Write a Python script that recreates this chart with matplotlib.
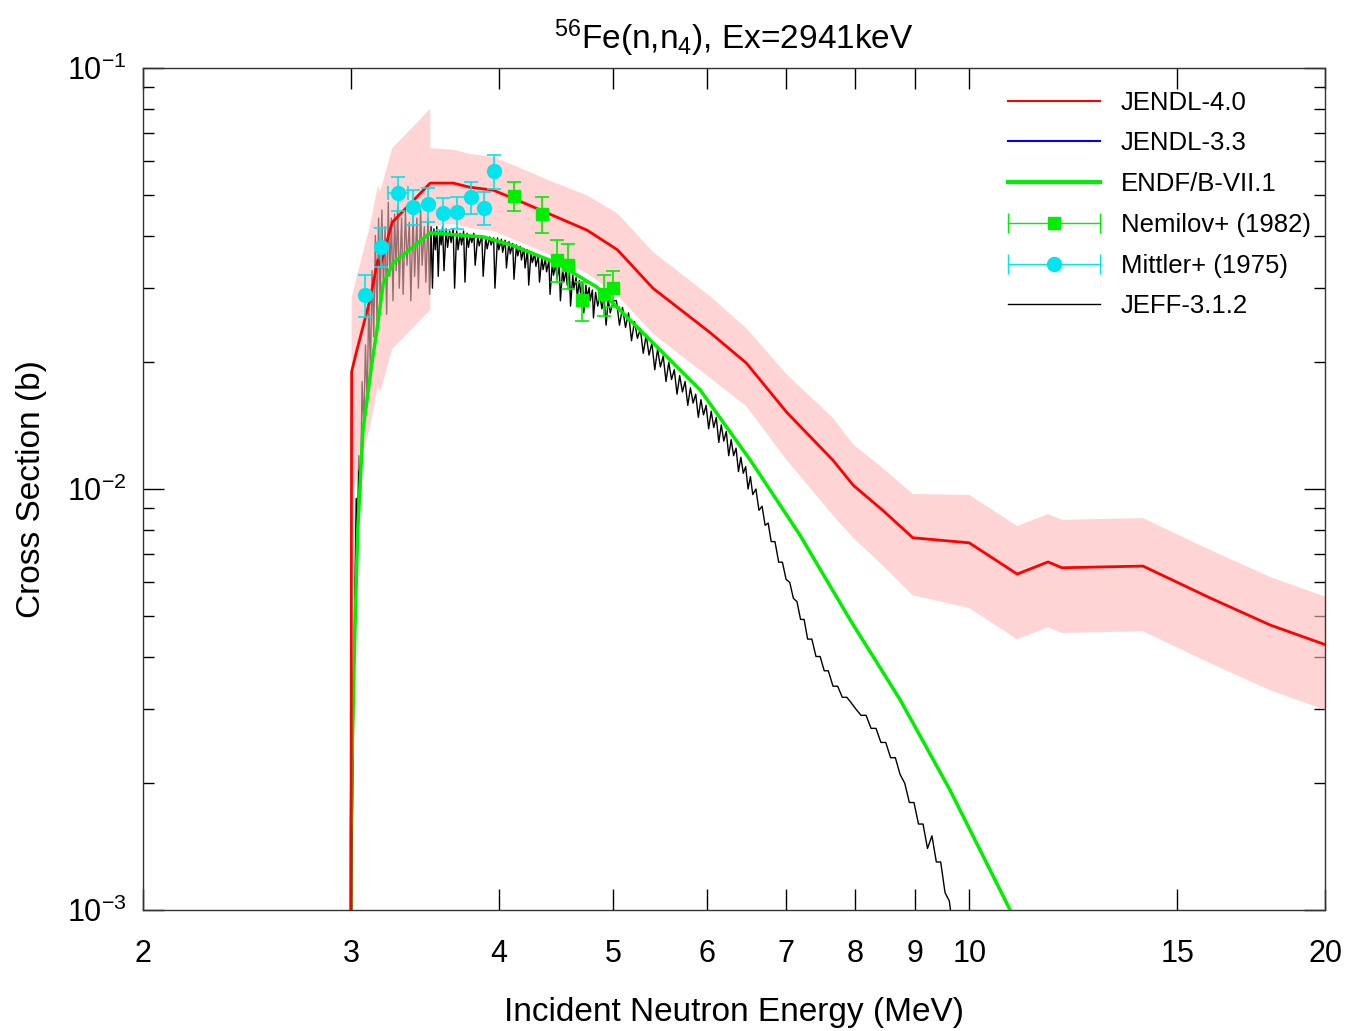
import numpy as np
import matplotlib
matplotlib.use("Agg")
import matplotlib.pyplot as plt
from matplotlib.lines import Line2D
from matplotlib.legend_handler import HandlerLine2D

plt.rcParams['font.family'] = ['Liberation Sans', 'DejaVu Sans']
plt.rcParams['mathtext.default'] = 'regular'

# ---------------- data ----------------
# JENDL-4.0 evaluation (MeV, barn) and relative uncertainty
jendl4_E = [2.9935, 3.003, 3.033, 3.112, 3.16, 3.175, 3.19, 3.25, 3.50, 3.50, 3.66, 3.78,
            3.955, 4.144, 4.392, 4.75, 5.04, 5.40, 6.04, 6.48, 7.01, 7.67, 7.98, 8.45,
            8.96, 10.0, 10.98, 11.66, 11.98, 14.03, 15.99, 17.98, 20.0]
jendl4_xs = [1e-5, 0.0190, 0.0213, 0.0281, 0.0350, 0.0340, 0.0356, 0.0430, 0.0533, 0.0533,
             0.0533, 0.0521, 0.0513, 0.0486, 0.0453, 0.0412, 0.0370, 0.0300, 0.0235, 0.0199,
             0.0152, 0.0117, 0.0102, 0.0089, 0.00766, 0.00745, 0.00628, 0.00671, 0.0065,
             0.00656, 0.00551, 0.00475, 0.00427]
jendl4_rel = [0.5, 0.5, 0.5, 0.5, 0.5, 0.5, 0.5, 0.5, 0.5, 0.21, 0.2, 0.2,
              0.2, 0.2, 0.2, 0.21, 0.22, 0.22, 0.22, 0.21, 0.23, 0.26, 0.25, 0.26,
              0.27, 0.30, 0.30, 0.30, 0.30, 0.30, 0.30, 0.30, 0.30]

# ENDF/B-VII.1
endf_E = [2.9935, 2.9994, 3.008, 3.022, 3.039, 3.07, 3.124, 3.155, 3.194, 3.256, 3.50,
          3.88, 4.11, 4.48, 4.84, 5.37, 5.92, 6.53, 7.19, 7.93, 8.74, 9.63, 10.83, 11.5]
endf_xs = [1e-5, 0.00151, 0.0026, 0.0046, 0.0080, 0.0138, 0.0199, 0.0239, 0.0308, 0.0344,
           0.0406, 0.0397, 0.0379, 0.0344, 0.0302, 0.0226, 0.0172, 0.0117, 0.00778,
           0.00489, 0.00316, 0.00193, 0.0010, 0.00075]

# JEFF-3.1.2 (fluctuating)
jeff_E = [3.000, 3.020, 3.030, 3.035, 3.045, 3.055, 3.065, 3.075, 3.085, 3.095, 3.105, 3.115,
          3.125, 3.135, 3.145, 3.155, 3.165, 3.175, 3.185, 3.195, 3.205, 3.215, 3.225, 3.235,
          3.245, 3.255, 3.265, 3.275, 3.285, 3.295, 3.310, 3.320, 3.335, 3.345, 3.360, 3.370,
          3.385, 3.395, 3.410, 3.420, 3.435, 3.445, 3.460, 3.470, 3.485, 3.495,
          3.505, 3.515, 3.525, 3.535, 3.545, 3.555, 3.565, 3.575, 3.585, 3.595, 3.610, 3.620,
          3.635, 3.645, 3.660, 3.670, 3.685, 3.695, 3.710, 3.720, 3.735, 3.745, 3.760, 3.770,
          3.785, 3.795, 3.810, 3.820, 3.840, 3.850, 3.870, 3.880, 3.900, 3.910, 3.930, 3.940,
          3.960, 3.970, 3.990, 4.000,
          4.02, 4.03, 4.05, 4.06, 4.08, 4.09, 4.11, 4.12, 4.14, 4.15, 4.17, 4.18, 4.20, 4.21,
          4.23, 4.24, 4.26, 4.27, 4.29, 4.30, 4.32, 4.33, 4.35, 4.36, 4.38, 4.39, 4.41, 4.42,
          4.44, 4.45, 4.47, 4.48, 4.50, 4.51, 4.53, 4.54, 4.56, 4.57, 4.59, 4.60, 4.62, 4.63,
          4.65, 4.66, 4.68, 4.69, 4.71, 4.72, 4.74, 4.75, 4.77, 4.78, 4.80, 4.81, 4.83, 4.85,
          4.87, 4.89, 4.91, 4.93, 4.95, 4.97, 5.00,
          5.03, 5.06, 5.09, 5.12, 5.15, 5.18, 5.21, 5.24, 5.27, 5.30, 5.33, 5.36, 5.39, 5.42,
          5.45, 5.48, 5.51, 5.54, 5.57, 5.60, 5.63, 5.66, 5.69, 5.72, 5.75, 5.78, 5.81, 5.84,
          5.87, 5.90, 5.93, 5.96, 5.99, 6.02, 6.05, 6.08, 6.11, 6.14, 6.17, 6.20, 6.23, 6.26,
          6.29, 6.32, 6.35, 6.38, 6.41, 6.44, 6.47, 6.50, 6.53, 6.56, 6.60, 6.64, 6.68, 6.72,
          6.76, 6.80, 6.85, 6.90, 6.95, 7.00, 7.05, 7.10, 7.15, 7.20, 7.25, 7.30, 7.36, 7.42,
          7.48, 7.54, 7.60, 7.67, 7.74, 7.81, 7.88, 7.95, 8.02, 8.10, 8.18, 8.26, 8.34, 8.42,
          8.50, 8.58, 8.66, 8.74, 8.82, 8.90, 8.98, 9.06, 9.14, 9.22, 9.30, 9.38, 9.46, 9.54,
          9.62, 9.70]
jeff_xs = [0.0008, 0.0050, 0.0095, 0.0063, 0.0120, 0.0098, 0.0180, 0.0140, 0.0220, 0.0160,
           0.0280, 0.0190, 0.0330, 0.0230, 0.0400, 0.0250, 0.0440, 0.0270, 0.0460, 0.0300,
           0.0420, 0.0260, 0.0480, 0.0320, 0.0440, 0.0280, 0.0450, 0.0330, 0.0470, 0.0300,
           0.0440, 0.0290, 0.0460, 0.0340, 0.0430, 0.0280, 0.0450, 0.0320, 0.0440, 0.0300,
           0.0460, 0.0340, 0.0420, 0.0310, 0.0440, 0.0290,
           0.0420, 0.0300, 0.0415, 0.0370, 0.0420, 0.0320, 0.0410, 0.0380, 0.0420, 0.0330,
           0.0415, 0.0375, 0.0410, 0.0385, 0.0415, 0.0300, 0.0410, 0.0370, 0.0405, 0.0380,
           0.0410, 0.0310, 0.0405, 0.0375, 0.0400, 0.0385, 0.0405, 0.0340, 0.0400, 0.0378,
           0.0400, 0.0320, 0.0398, 0.0372, 0.0397, 0.0380, 0.0395, 0.0300, 0.0395, 0.0370,
           0.0392, 0.0365, 0.0390, 0.0335, 0.0387, 0.0362, 0.0383, 0.0315, 0.0380, 0.0358,
           0.0377, 0.0350, 0.0373, 0.0335, 0.0370, 0.0305, 0.0366, 0.0345, 0.0362, 0.0338,
           0.0358, 0.0310, 0.0355, 0.0332, 0.0352, 0.0328, 0.0348, 0.0290, 0.0345, 0.0322,
           0.0342, 0.0315, 0.0338, 0.0280, 0.0334, 0.0310, 0.0330, 0.0305, 0.0326, 0.0272,
           0.0322, 0.0300, 0.0318, 0.0285, 0.0313, 0.0292, 0.0309, 0.0262, 0.0305, 0.0285,
           0.0301, 0.0280, 0.0297, 0.0255, 0.0293, 0.0272, 0.0289, 0.0268, 0.0285, 0.0245,
           0.0282, 0.0262, 0.0280,
           0.0280, 0.0245, 0.0270, 0.0242, 0.0262, 0.0225, 0.0250, 0.0228, 0.0240, 0.0210,
           0.0232, 0.0208, 0.0222, 0.0192, 0.0215, 0.0195, 0.0207, 0.0180, 0.0200, 0.0182,
           0.0192, 0.0168, 0.0186, 0.0170, 0.0180, 0.0158, 0.0174, 0.0160, 0.0168, 0.0148,
           0.0163, 0.0150, 0.0158, 0.0139, 0.0153, 0.0140, 0.0148, 0.0129, 0.0142, 0.0130,
           0.0137, 0.0120, 0.0131, 0.0120, 0.0125, 0.0110, 0.0119, 0.0109, 0.0113, 0.0100,
           0.0107, 0.0097, 0.0100, 0.0089, 0.0091, 0.0082, 0.0083, 0.0075, 0.0075, 0.0067,
           0.0067, 0.0061, 0.0060, 0.0055, 0.0054, 0.0049, 0.0049, 0.0044, 0.0044, 0.0040,
           0.0040, 0.0037, 0.0037, 0.0034, 0.0034, 0.0032, 0.0032, 0.0031, 0.0030, 0.0029,
           0.0029, 0.0027, 0.0027, 0.0025, 0.0025, 0.0023, 0.0023, 0.0021, 0.0020, 0.0018,
           0.0018, 0.0016, 0.0016, 0.0014, 0.0015, 0.0013, 0.0013, 0.0011, 0.00105, 0.00088]

# Experimental data
nemilov_E = [4.12, 4.35, 4.48, 4.58, 4.70, 4.91, 5.00]
nemilov_xs = [0.0497, 0.0450, 0.0350, 0.0340, 0.0281, 0.0290, 0.0300]
nemilov_err = [0.0040, 0.0045, 0.0040, 0.0042, 0.0030, 0.0032, 0.0030]

mittler_E = [3.083, 3.178, 3.287, 3.385, 3.485, 3.589, 3.689, 3.789, 3.887, 3.963]
mittler_xs = [0.0289, 0.0376, 0.0504, 0.0468, 0.0475, 0.0452, 0.0455, 0.0494, 0.0465, 0.0569]
mittler_err = [0.0033, 0.0040, 0.0046, 0.0045, 0.0045, 0.0040, 0.0040, 0.0043, 0.0042, 0.0052]
mittler_xerr = [0, 0, 0.065, 0, 0, 0, 0, 0, 0, 0]

xticks = [2, 3, 4, 5, 6, 7, 8, 9, 10, 15, 20]
xticklabels = ['2', '3', '4', '5', '6', '7', '8', '9', '10', '15', '20']

# ---------------- plot ----------------
fig = plt.figure(figsize=(13.5, 10.31), dpi=100)
ax = fig.add_axes([0.1059, 0.1174, 0.8756, 0.8166])
ax.set_xscale('log')
ax.set_yscale('log')

RED = '#ff0000'
GREEN = '#00ee00'
CYAN = '#00e5ee'

j4E = np.array(jendl4_E)
j4 = np.array(jendl4_xs)
rel = np.array(jendl4_rel)

ax.plot(jeff_E, jeff_xs, color='black', lw=1.0, zorder=1)
ax.fill_between(j4E, j4 * (1 - rel), j4 * (1 + rel), color='#ffb8b8', alpha=0.6,
                lw=0, zorder=2)
ax.plot(endf_E, endf_xs, color=GREEN, lw=2.5, zorder=3)
ax.plot(j4E, j4, color=RED, lw=2.0, zorder=4)

ax.errorbar(mittler_E, mittler_xs, yerr=mittler_err, xerr=mittler_xerr, fmt='o',
            color=CYAN, ms=10, capsize=5, elinewidth=1.2, capthick=1.2, zorder=5)
ax.errorbar(nemilov_E, nemilov_xs, yerr=nemilov_err, fmt='s', color=GREEN, ms=9,
            capsize=5, elinewidth=1.2, capthick=1.2, zorder=6)

ax.set_xlim(2, 20)
ax.set_ylim(1e-3, 1e-1)
ax.set_xticks(xticks)
ax.set_xticklabels(xticklabels)
ax.xaxis.set_minor_locator(matplotlib.ticker.NullLocator())
ax.tick_params(axis='both', which='major', direction='in', length=15, width=1,
               top=True, right=True, labelsize=22, pad=12)
ax.tick_params(axis='y', which='minor', direction='in', length=8, width=1,
               left=True, right=True)
ax.tick_params(axis='x', which='major', pad=21)
for s in ax.spines.values():
    s.set_linewidth(1.0)
    s.set_color('#333333')

ax.set_xlabel('Incident Neutron Energy (MeV)', fontsize=24, labelpad=20)
ax.set_ylabel('Cross Section (b)', fontsize=24, labelpad=14)
ax.set_title('$^{56}$Fe(n,n$_4$), Ex=2941keV', fontsize=24, pad=14)

# legend
h_j4 = Line2D([], [], color=RED, lw=1.5)
h_j33 = Line2D([], [], color='#0000ff', lw=1.5)
h_endf = Line2D([], [], color=GREEN, lw=3)
nem_line = Line2D([], [], color=GREEN, lw=1, marker='s', ms=9)
nem_caps = Line2D([], [], color=GREEN, lw=0, marker='|', ms=14, mew=1)
mit_line = Line2D([], [], color=CYAN, lw=1, marker='o', ms=10)
mit_caps = Line2D([], [], color=CYAN, lw=0, marker='|', ms=14, mew=1)
h_jeff = Line2D([], [], color='black', lw=1)
leg = ax.legend([h_j4, h_j33, h_endf, (nem_line, nem_caps), (mit_line, mit_caps), h_jeff],
                ['JENDL-4.0', 'JENDL-3.3', 'ENDF/B-VII.1', 'Nemilov+ (1982)',
                 'Mittler+ (1975)', 'JEFF-3.1.2'],
                handler_map={nem_caps: HandlerLine2D(numpoints=2, marker_pad=0),
                             mit_caps: HandlerLine2D(numpoints=2, marker_pad=0)},
                loc='upper left', bbox_to_anchor=(0.7318, 0.973), frameon=False,
                fontsize=18.5, handlelength=3.6, handletextpad=0.8, labelspacing=0.65,
                borderpad=0, borderaxespad=0)

fig.savefig('out.png', dpi=100)
